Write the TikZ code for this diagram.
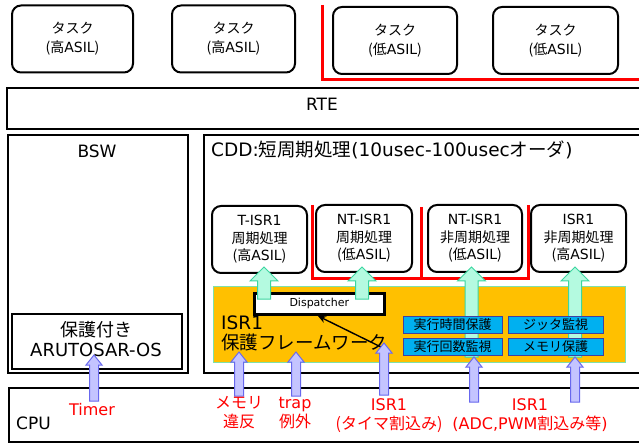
\documentclass[tikz,border=0pt]{standalone}
\usepackage{fontspec}
\setmainfont{Noto Sans CJK JP}
\newfontfamily\latf{DejaVu Sans}
\newcommand{\lt}[1]{{\latf #1}}
\usetikzlibrary{arrows.meta}
\definecolor{redln}{HTML}{FF0000}
\definecolor{orangefill}{HTML}{FFC000}
\definecolor{orangeedge}{HTML}{7FE0A8}
\definecolor{bluefill}{HTML}{00B0F0}
\definecolor{blueedge}{HTML}{4040A0}
\definecolor{gfill}{HTML}{B4FAE0}
\definecolor{gedge}{HTML}{3CD6A0}
\definecolor{bfill}{HTML}{C4C4FF}
\definecolor{bedge}{HTML}{6868EE}
\newcommand{\greenup}[3]{%
  \draw[garrow] ({#1-6.5},#2) -- ({#1-6.5},{#3+14}) -- ({#1-14},{#3+14}) -- (#1,#3)
   -- ({#1+14},{#3+14}) -- ({#1+6.5},{#3+14}) -- ({#1+6.5},#2) -- cycle;}
\newcommand{\blueup}[3]{%
  \draw[barrow] ({#1-4.5},#2) -- ({#1-4.5},{#3+10}) -- ({#1-8},{#3+10}) -- (#1,#3)
   -- ({#1+8},{#3+10}) -- ({#1+4.5},{#3+10}) -- ({#1+4.5},#2) -- cycle;}
\begin{document}
\begin{tikzpicture}[x=1pt,y=-1pt,
  bigbox/.style={draw=black, line width=2.4pt, fill=white, inner sep=0pt, anchor=north west},
  taskbox/.style={draw=black, line width=2pt, rounded corners=9pt, fill=white, inner sep=0pt,
     align=center, font=\fontsize{14}{19}\selectfont},
  isrbox/.style={draw=black, line width=2pt, rounded corners=9pt, fill=white, inner sep=0pt,
     align=center, font=\fontsize{14}{17.5}\selectfont, minimum height=67pt},
  bluebox/.style={draw=blueedge, line width=1pt, fill=bluefill, inner sep=0pt,
     minimum height=17pt, font=\fontsize{13}{14}\selectfont},
  redwall/.style={draw=redln, line width=3pt},
  garrow/.style={draw=gedge, line width=1pt, fill=gfill},
  barrow/.style={draw=bedge, line width=1pt, fill=bfill},
  redlbl/.style={text=redln, align=center, inner sep=0pt, font=\fontsize{16}{19}\selectfont},
  lbl/.style={inner sep=0pt, font=\fontsize{17}{20}\selectfont}]
\useasboundingbox (0,0) rectangle (639,443);
\fill[white] (0,0) rectangle (639,443);

% top tasks
\node[taskbox, minimum width=121pt, minimum height=67pt] (t1) at (72.5,39) {タスク\\(高\lt{ASIL})};
\node[taskbox, minimum width=123pt, minimum height=67pt] (t2) at (233.5,39) {タスク\\(高\lt{ASIL})};
\node[taskbox, minimum width=124pt, minimum height=67pt] (t3) at (395,40.5) {タスク\\(低\lt{ASIL})};
\node[taskbox, minimum width=125pt, minimum height=67pt] (t4) at (555.5,40.5) {タスク\\(低\lt{ASIL})};
\coordinate (rw1) at (322,5);
\coordinate (rw2) at (322,80);
\coordinate (rw3) at (645,80);
\draw[redwall] (rw1) -- (rw2) -- (rw3);

% RTE
\node[bigbox, minimum width=639pt, minimum height=41pt] (rte) at (6,87) {};
\node[lbl] (rtelbl) at (322,104) {\lt{RTE}};

% BSW
\node[bigbox, minimum width=180pt, minimum height=238pt] (bsw) at (7,134) {};
\node[lbl] (bswlbl) at (97,151) {\lt{BSW}};
\node[bigbox, line width=2.2pt, minimum width=170pt, minimum height=55pt] (os) at (11,313) {};
\node[inner sep=0pt, align=center, font=\fontsize{18}{20}\selectfont] (oslbl) at (96,339) {保護付き\\\lt{ARUTOSAR-OS}};

% CDD
\node[bigbox, minimum width=442pt, minimum height=238pt] (cdd) at (203,134) {};
\node[lbl, anchor=west, font=\fontsize{18.5}{20}\selectfont] (cddlbl) at (211,150) {\lt{CDD:}短周期処理\lt{(10usec-100usec}オーダ\lt{)}};

\node[isrbox, minimum width=95pt] (i1) at (259.5,239.5) {\lt{T-ISR1}\\周期処理\\(高\lt{ASIL})};
\node[isrbox, minimum width=96pt] (i2) at (364,238.5) {\lt{NT-ISR1}\\周期処理\\(低\lt{ASIL})};
\node[isrbox, minimum width=94pt] (i3) at (475,238.5) {\lt{NT-ISR1}\\非周期処理\\(低\lt{ASIL})};
\node[isrbox, minimum width=95pt] (i4) at (578.5,238.5) {\lt{ISR1}\\非周期処理\\(高\lt{ASIL})};

\coordinate (ra) at (312,205);
\coordinate (rb) at (312,279);
\coordinate (rc) at (528,279);
\coordinate (rd) at (528,205);
\coordinate (re) at (421,207);
\coordinate (rf) at (421,279);
\draw[redwall] (ra) -- (rb) -- (rc) -- (rd);
\draw[redwall] (re) -- (rf);

% framework
\node[draw=orangeedge, line width=1.3pt, fill=orangefill, inner sep=0pt, anchor=north west,
      minimum width=412pt, minimum height=76pt] (fw) at (213,286) {};
\node[draw=black, line width=2.6pt, fill=white, inner sep=0pt, anchor=north west,
      minimum width=130pt, minimum height=21pt, font=\fontsize{11}{12}\selectfont] (disp) at (253,292) {\lt{Dispatcher}};
\node[inner sep=0pt, anchor=west, align=left, font=\fontsize{18.5}{20}\selectfont] (fwlbl) at (221,333) {\lt{ISR1}\\保護フレームワーク};

% green arrows
\greenup{264}{299}{267}
\greenup{362}{299}{267}
\greenup{471.5}{357}{267}
\greenup{575}{357}{267}

% monitors
\node[bluebox, minimum width=99pt] (m1) at (452.5,324.5) {実行時間保護};
\node[bluebox, minimum width=99pt] (m2) at (452.5,346.5) {実行回数監視};
\node[bluebox, minimum width=95pt] (m3) at (555.5,324.5) {ジッタ監視};
\node[bluebox, minimum width=95pt] (m4) at (555.5,346.5) {メモリ保護};

% dispatcher pointer
\coordinate (dp) at (383,348);
\coordinate (dq) at (318,316);
\draw[line width=1.4pt, -{Stealth[length=8pt,width=7pt]}] (dp) -- (dq);

% CPU
\node[bigbox, minimum width=637pt, minimum height=54pt] (cpu) at (8,387) {};
\node[lbl, anchor=west] (cpulbl) at (16,423) {\lt{CPU}};

% blue arrows
\blueup{94}{401}{355}
\blueup{239}{396}{352}
\blueup{296}{396}{352}
\blueup{384}{395}{343}
\blueup{474}{402}{357}
\blueup{575}{402}{357}

% red labels
\node[redlbl] (l1) at (92,410) {\lt{Timer}};
\node[redlbl] (l2) at (239,413) {メモリ\\違反};
\node[redlbl] (l3) at (295,413) {\lt{trap}\\例外};
\node[redlbl] (l4) at (389,415.5) {\lt{ISR1}\\(タイマ割込み)};
\node[redlbl] (l5) at (530,415.5) {\lt{ISR1}\\\lt{(ADC,PWM}割込み等\lt{)}};
\end{tikzpicture}
\end{document}
